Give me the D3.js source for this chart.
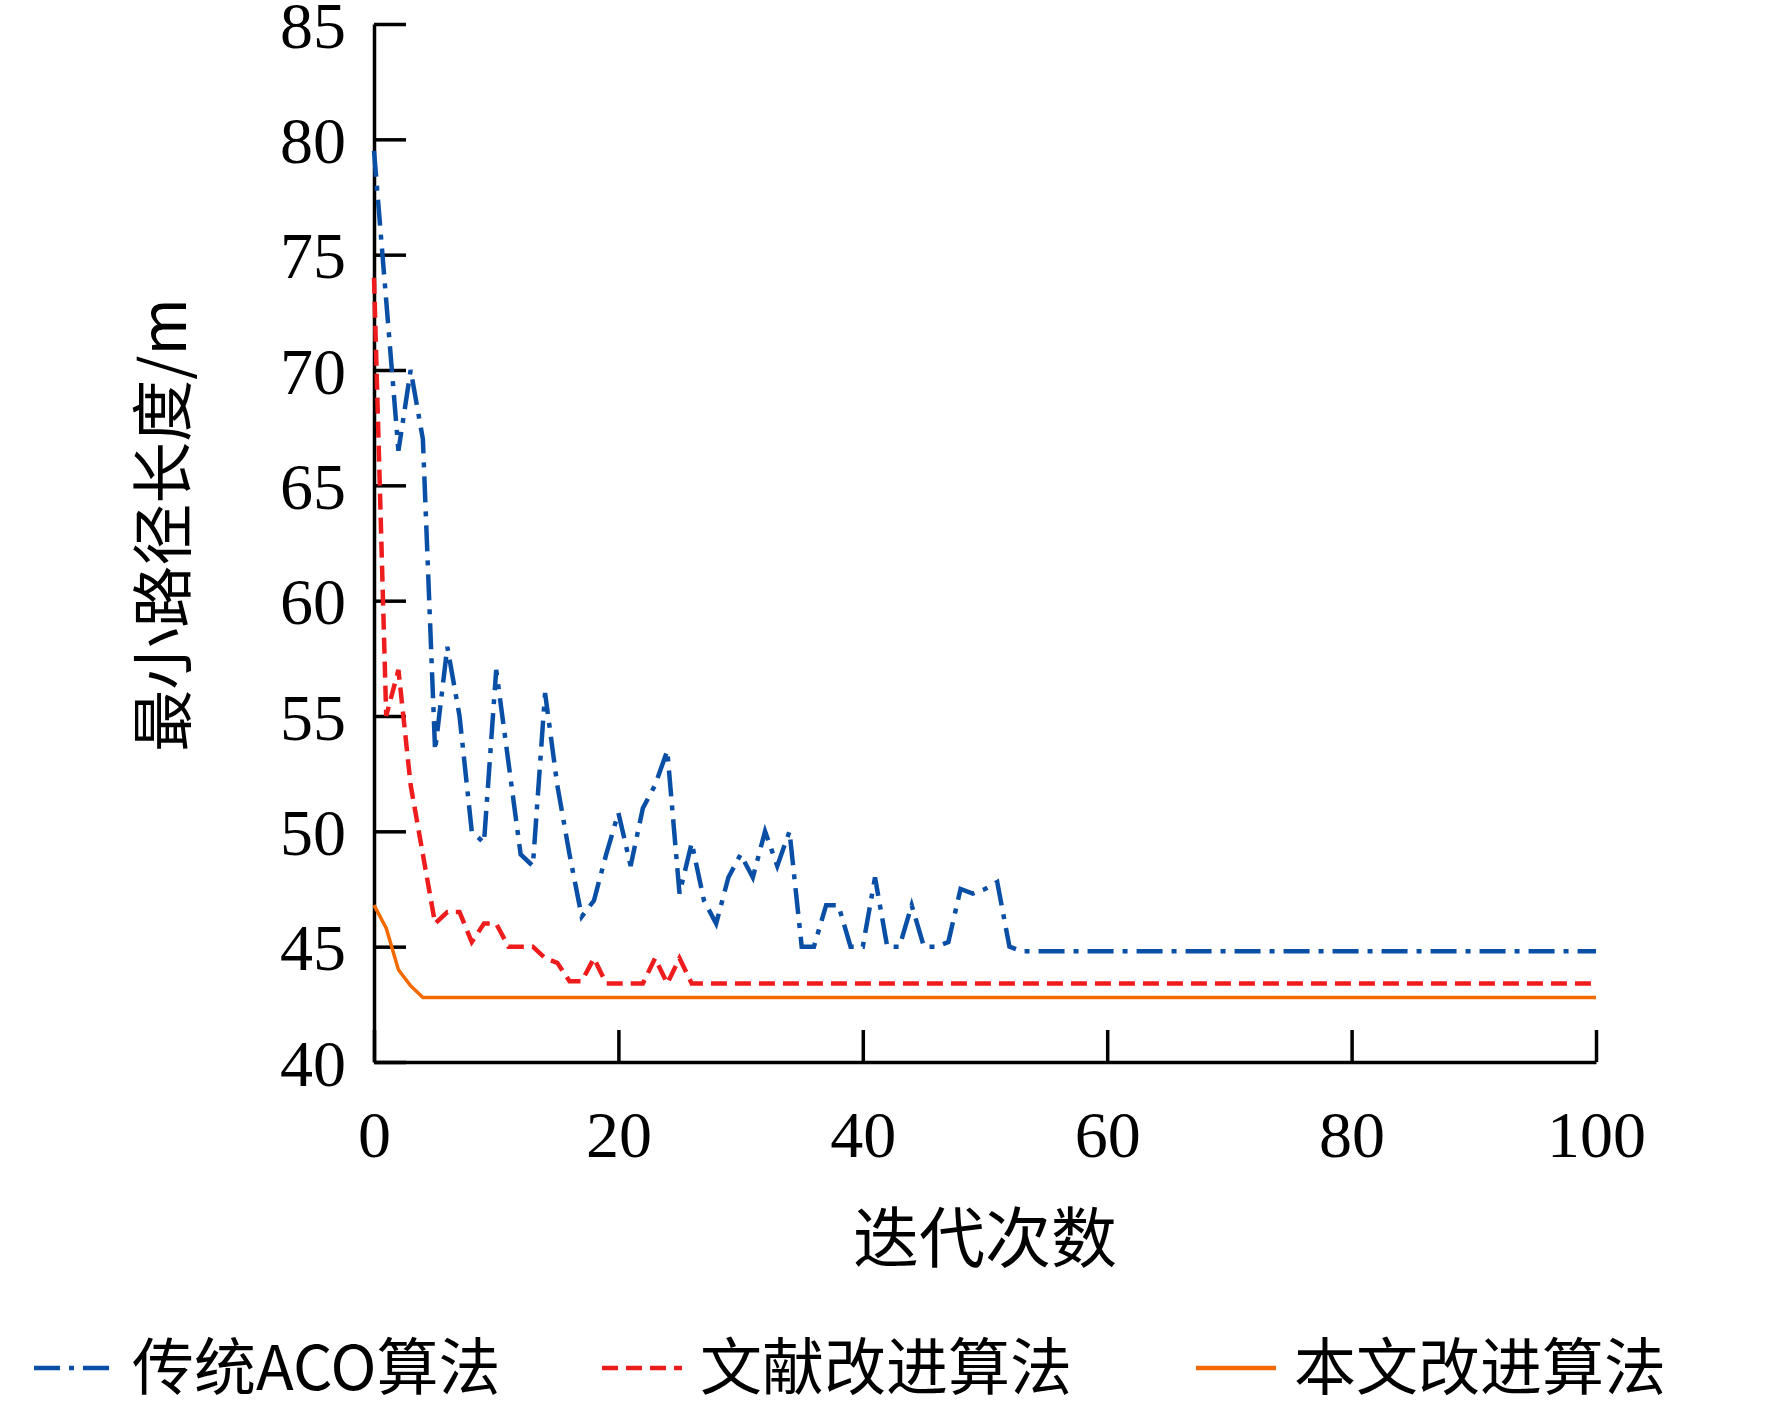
<!DOCTYPE html>
<html><head><meta charset="utf-8">
<script src="https://cdn.jsdelivr.net/npm/d3@7"></script>
<style>body{margin:0;background:#fff}</style>
</head><body>
<svg id="chart" width="1772" height="1406"></svg>
<script>
var yTicks = [40, 45, 50, 55, 60, 65, 70, 75, 80, 85];
var xTicks = [0, 20, 40, 60, 80, 100];
var seriesNames = ['传统ACO算法', '文献改进算法', '本文改进算法'];
var acoIter = [0,1,2,3,4,5,6,7,8,9,10,11,12,13,14,15,16,17,18,19,20,21,22,23,24,25,26,27,28,29,30,31,32,33,34,35,36,37,38,39,40,41,42,43,44,45,46,47,48,49,50,51,52,53,100];
var acoVal = [79.5,73,66.5,70,67,53.5,58,55,50,49.5,57,53,49,48.5,56,52,49,46.3,47,49,50.8,48.5,51,52,53.5,47.3,49.5,47,46,48,49,48,50,48.5,50,45,45,46.8,46.8,45,45,48,45,45,46.8,45,45,45.2,47.5,47.3,47.5,47.8,45,44.8,44.8];
var litIter = [0,1,2,3,4,5,6,7,8,9,10,11,12,13,14,15,16,17,18,19,20,21,22,23,24,25,26,27,100];
var litVal = [74,55,57,52,49,46,46.5,46.5,45.2,46,46,45,45,45,44.5,44.3,43.5,43.5,44.5,43.4,43.4,43.4,43.4,44.5,43.4,44.5,43.4,43.4,43.4];
var oursIter = [0,1,2,3,4,100];
var oursVal = [46.8,45.8,44,43.3,42.8,42.8];

var colors = ['#0a4fa6', '#ee1c1c', '#f26a00'];
var dashes = ['26,9,5,9', '16,8', null];

var svg = d3.select('#chart');
var x = d3.scaleLinear().domain([0, 100]).range([374, 1596]);
var y = d3.scaleLinear().domain([40, 85]).range([1062, 24]);
var serif = '"Liberation Serif","Times New Roman",serif';
var cjk = '"Noto Sans CJK SC",sans-serif';

// axes
var xAxis = d3.axisBottom(x).tickValues(xTicks).tickSizeInner(-32).tickSizeOuter(0).tickPadding(48);
var gx = svg.append('g').attr('transform', 'translate(0,' + y(40) + ')').call(xAxis);
var yAxis = d3.axisLeft(y).tickValues(yTicks).tickSizeInner(-32).tickSizeOuter(0).tickPadding(28);
var gy = svg.append('g').attr('transform', 'translate(' + x(0) + ',0)').call(yAxis);
[gx, gy].forEach(function(g){
  g.selectAll('path,line').attr('stroke', '#000').attr('stroke-width', 3.5);
  g.selectAll('text').attr('font-family', serif).attr('font-size', 66).attr('fill', '#000');
});
gx.selectAll('text').attr('dy', '0.71em');
gy.selectAll('text').attr('dy', '0.35em');

svg.append('text').attr('x', 985).attr('y', 1262).attr('text-anchor', 'middle')
  .attr('font-family', cjk).attr('font-size', 66).text('迭代次数');
svg.append('text').attr('transform', 'translate(186,525) rotate(-90)').attr('text-anchor', 'middle')
  .attr('font-family', cjk).attr('font-size', 62).text('最小路径长度/m');

// lines
var seriesIter = [acoIter, litIter, oursIter];
var seriesVal = [acoVal, litVal, oursVal];
var line = d3.line().x(function(d){ return x(d[0]); }).y(function(d){ return y(d[1]); });
for (var i = 2; i >= 0; i--) {
  var pts = d3.zip(seriesIter[i], seriesVal[i]);
  svg.append('path').attr('d', line(pts)).attr('fill', 'none')
    .attr('stroke', colors[i]).attr('stroke-width', i == 2 ? 3.5 : 4.5)
    .attr('stroke-dasharray', dashes[i]);
}

// legend
var legX = [34, 602, 1196];
var legY = 1368;
for (var k = 0; k < 3; k++) {
  svg.append('line').attr('x1', legX[k]).attr('x2', legX[k] + 80).attr('y1', legY).attr('y2', legY)
    .attr('stroke', colors[k]).attr('stroke-width', 4.5).attr('stroke-dasharray', dashes[k]);
  svg.append('text').attr('x', legX[k] + 98).attr('y', legY).attr('dy', '0.35em')
    .attr('font-family', cjk).attr('font-size', 62).text(seriesNames[k]);
}
</script>
</body></html>
